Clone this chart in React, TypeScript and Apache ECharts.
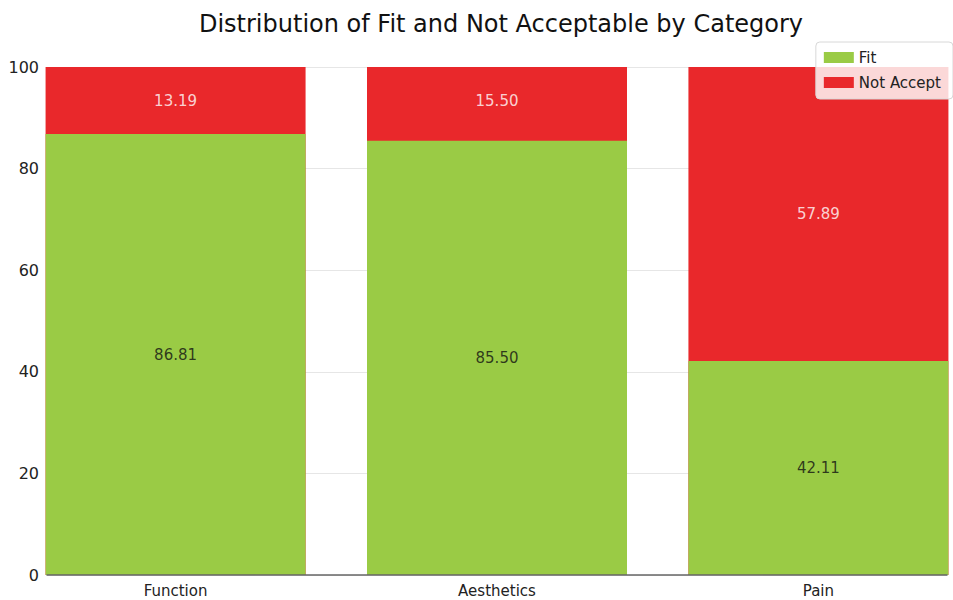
import React, { useEffect, useRef } from "react";
import * as echarts from "echarts";

const categories = ["Function", "Aesthetics", "Pain"];
const fitValues = [86.81, 85.5, 42.11];
const notAcceptValues = [13.19, 15.5, 57.89];
const yTicks = [0, 20, 40, 60, 80, 100];

export default function App() {
  const ref = useRef<HTMLDivElement>(null);
  useEffect(() => {
    if (!ref.current) return;
    const chart = echarts.init(ref.current, null, { renderer: "svg" });
    const font = "DejaVu Sans";
    // manual stacking: red bar spans 0..(fit+notAccept), green bar drawn over it
    const fitData = fitValues.map((v, i) => [i, v]);
    const totalData = notAcceptValues.map((v, i) => [i, fitValues[i] + v]);
    const fitLabelData = fitValues.map((v, i) => ({ value: [i, v / 2], label: { formatter: v.toFixed(2) } }));
    const naLabelData = notAcceptValues.map((v, i) => ({
      value: [i, fitValues[i] + v / 2],
      label: { formatter: v.toFixed(2) },
    }));
    chart.setOption({
      animation: false,
      textStyle: { fontFamily: font },
      title: {
        text: "Distribution of Fit and Not Acceptable by Category",
        left: 496,
        textAlign: "center",
        top: 7,
        textStyle: { fontFamily: font, fontSize: 24, fontWeight: "normal", color: "#111" },
      },
      legend: {
        orient: "vertical",
        right: 0,
        top: 42,
        backgroundColor: "rgba(255,255,255,0.82)",
        borderColor: "#d8d8d8",
        borderWidth: 1,
        borderRadius: 4,
        padding: [8, 12, 9, 8],
        itemWidth: 30,
        itemHeight: 11,
        itemGap: 10,
        icon: "rect",
        textStyle: { fontFamily: font, fontSize: 15, color: "#222" },
        data: ["Fit", "Not Accept"],
      },
      grid: { left: 47, right: 6, top: 67, bottom: 25, containLabel: false },
      xAxis: {
        type: "value",
        min: -0.4,
        max: 2.4,
        z: 5,
        splitLine: { show: false },
        axisLine: { show: true, lineStyle: { color: "#666", width: 1.5 } },
        axisTick: { show: false },
        axisLabel: {
          customValues: [0, 1, 2],
          formatter: (v: number) => categories[Math.round(v)] ?? "",
          fontFamily: font,
          fontSize: 15,
          color: "#222",
          margin: 8,
        },
      },
      yAxis: {
        type: "value",
        min: 0,
        max: 100,
        interval: 20,
        axisLine: { show: false },
        axisTick: { show: false },
        splitLine: { show: true, lineStyle: { color: "#e6e6e6", width: 1 } },
        axisLabel: {
          fontFamily: font,
          fontSize: 16,
          color: "#222",
          margin: 8,
          formatter: (v: number) => (yTicks.includes(v) ? String(v) : ""),
        },
      },
      series: [
        {
          name: "Not Accept",
          type: "bar",
          barWidth: 260,
          clip: true,
          data: totalData,
          itemStyle: { color: "#e9282b" },
          label: { show: false },
        },
        {
          name: "Fit",
          type: "bar",
          barWidth: 260,
          barGap: "-100%",
          clip: true,
          data: fitData,
          itemStyle: { color: "#9acb45" },
          label: { show: false },
        },
        {
          type: "scatter",
          symbolSize: 0,
          silent: true,
          data: fitLabelData,
          label: { show: true, position: "inside", color: "#111", fontFamily: font, fontSize: 15 },
        },
        {
          type: "scatter",
          symbolSize: 0,
          silent: true,
          data: naLabelData,
          label: { show: true, position: "inside", color: "#fff", fontFamily: font, fontSize: 15 },
        },
      ],
    });
    return () => chart.dispose();
  }, []);
  return <div ref={ref} style={{ width: 953, height: 600, position: "absolute", left: 0, top: 0 }} />;
}
